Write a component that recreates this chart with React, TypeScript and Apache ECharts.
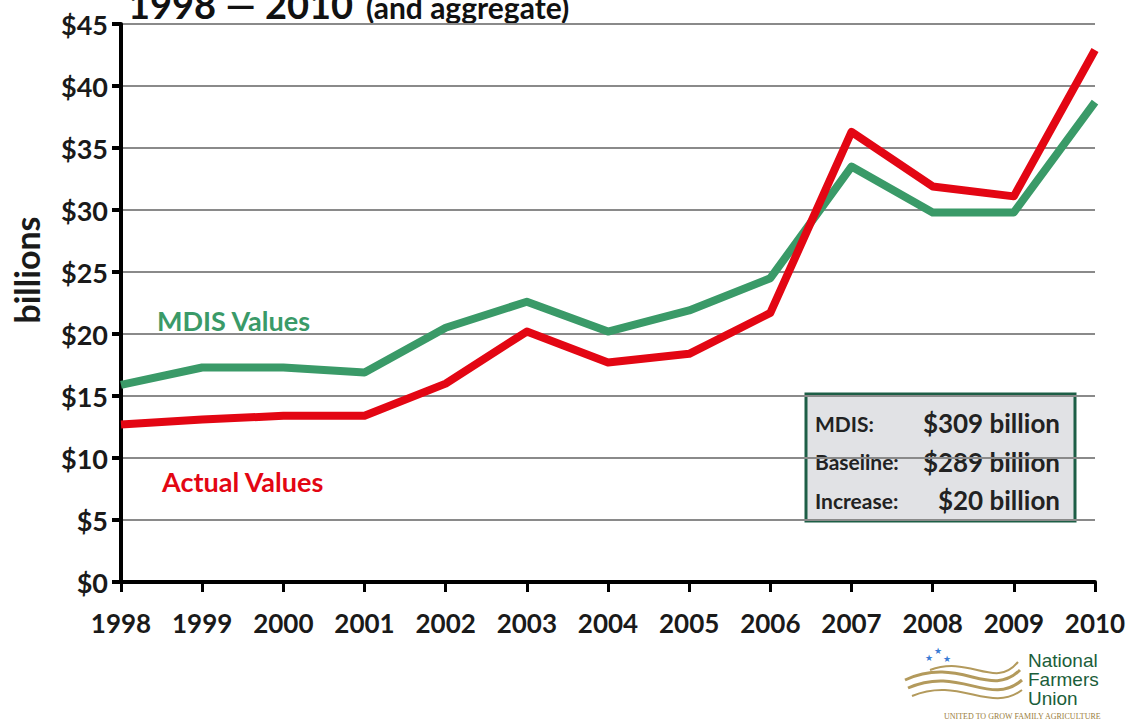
import React, { useEffect, useRef } from "react";
import * as echarts from "echarts";

const years = ["1998","1999","2000","2001","2002","2003","2004","2005","2006","2007","2008","2009","2010"];
const mdisValues = [15.9, 17.3, 17.3, 16.9, 20.5, 22.6, 20.2, 21.9, 24.5, 33.5, 29.8, 29.8, 38.7];
const actualValues = [12.7, 13.1, 13.4, 13.4, 16.0, 20.2, 17.7, 18.4, 21.7, 36.3, 31.9, 31.1, 42.9];
const summaryLabels = ["MDIS:", "Baseline:", "Increase:"];
const summaryValues = ["$309 billion", "$289 billion", "$20 billion"];
const logoLines = ["National", "Farmers", "Union"];

const FONT = "Lato, 'Open Sans', sans-serif";
const GREEN = "#3a9a68";
const RED = "#e30613";

export default function App() {
  const ref = useRef<HTMLDivElement>(null);
  useEffect(() => {
    if (!ref.current) return;
    const chart = echarts.init(ref.current, null, { renderer: "svg" });
    const boxX = 806, boxY = 394, boxW = 269, boxH = 127;
    const summary: any[] = [];
    summaryLabels.forEach((l, i) => {
      const cy = 423 + i * 38.5;
      summary.push({ type: "text", x: 815, y: cy, style: { text: l, font: `bold 21px ${FONT}`, fill: "#222", verticalAlign: "middle", align: "left" } });
      summary.push({ type: "text", x: 1060, y: cy, style: { text: summaryValues[i], font: `bold 26px ${FONT}`, fill: "#222", verticalAlign: "middle", align: "right" } });
    });
    const logoText: any[] = logoLines.map((t, i) => ({
      type: "text", x: 1028, y: 660 + i * 19,
      style: { text: t, font: `19px 'Liberation Sans', sans-serif`, fill: "#1b5e3a", verticalAlign: "middle" },
    }));
    const stars: any[] = [[929, 658], [938, 651], [947, 659]].map(([x, y]) => ({
      type: "text", x, y, style: { text: "★", font: `9px 'DejaVu Sans', sans-serif`, fill: "#3a7bd5", verticalAlign: "middle", align: "center" },
    }));
    chart.setOption({
      animation: false,
      grid: { left: 121, right: 35, top: 24, bottom: 139, containLabel: false },
      xAxis: {
        type: "category",
        data: years,
        boundaryGap: false,
        axisLine: { lineStyle: { color: "#000", width: 4 } },
        axisTick: { show: true, length: 10, lineStyle: { color: "#000", width: 3 } },
        axisLabel: { color: "#1a1a1a", fontFamily: FONT, fontWeight: "bold", fontSize: 26, margin: 28 },
        splitLine: { show: false },
      },
      yAxis: {
        type: "value",
        min: 0,
        max: 45,
        interval: 5,
        axisLine: { show: true, lineStyle: { color: "#000", width: 4 } },
        axisTick: { show: true, length: 9, lineStyle: { color: "#000", width: 4 } },
        axisLabel: { color: "#1a1a1a", fontFamily: FONT, fontWeight: "bold", fontSize: 27, margin: 13, formatter: (v: number) => "$" + v },
        splitLine: { show: true, lineStyle: { color: "#8a8a8a", width: 2 } },
      },
      series: [
        { name: "MDIS Values", type: "line", data: mdisValues, symbol: "none", lineStyle: { color: GREEN, width: 8, join: "round" }, z: 3 },
        { name: "Actual Values", type: "line", data: actualValues, symbol: "none", lineStyle: { color: RED, width: 8, join: "round" }, z: 4 },
      ],
      graphic: [
        { type: "text", x: 128, y: 23, style: { text: "1998 — 2010", font: `bold 38px ${FONT}`, fill: "#111", verticalAlign: "bottom" } },
        { type: "text", x: 366, y: 22, style: { text: "(and aggregate)", font: `bold 30px ${FONT}`, fill: "#111", verticalAlign: "bottom" } },
        { type: "text", x: 26, y: 270, rotation: Math.PI / 2, style: { text: "billions", font: `bold 34px ${FONT}`, fill: "#1a1a1a", verticalAlign: "middle", align: "center" } },
        { type: "text", x: 157, y: 320, style: { text: "MDIS Values", font: `bold 27px ${FONT}`, fill: GREEN, verticalAlign: "middle" } },
        { type: "text", x: 162, y: 481, style: { text: "Actual Values", font: `bold 27px ${FONT}`, fill: RED, verticalAlign: "middle" } },
        { type: "rect", shape: { x: boxX, y: boxY, width: boxW, height: boxH }, style: { fill: "#e1e2e5", stroke: "#1d5e46", lineWidth: 3 } },
        ...summary,
        { type: "group", children: [
          { type: "bezierCurve", shape: { x1: 905, y1: 680, cpx1: 960, cpy1: 655, cpx2: 990, cpy2: 700, x2: 1020, y2: 670 }, style: { stroke: "#b39a5c", lineWidth: 3, fill: "none" } },
          { type: "bezierCurve", shape: { x1: 908, y1: 688, cpx1: 960, cpy1: 665, cpx2: 990, cpy2: 708, x2: 1022, y2: 680 }, style: { stroke: "#b39a5c", lineWidth: 3, fill: "none" } },
          { type: "bezierCurve", shape: { x1: 912, y1: 696, cpx1: 960, cpy1: 676, cpx2: 990, cpy2: 714, x2: 1022, y2: 690 }, style: { stroke: "#b39a5c", lineWidth: 2, fill: "none" } },
          { type: "bezierCurve", shape: { x1: 930, y1: 670, cpx1: 970, cpy1: 655, cpx2: 995, cpy2: 690, x2: 1018, y2: 662 }, style: { stroke: "#b39a5c", lineWidth: 2, fill: "none" } },
          ...stars,
          ...logoText,
          { type: "text", x: 944, y: 716, style: { text: "UNITED TO GROW FAMILY AGRICULTURE", font: `8px 'Liberation Serif', serif`, fill: "#9a7d3c", verticalAlign: "middle" } },
        ] },
      ],
    });
    return () => chart.dispose();
  }, []);
  return <div ref={ref} style={{ width: 1130, height: 721, position: "absolute", left: 0, top: 0 }} />;
}
